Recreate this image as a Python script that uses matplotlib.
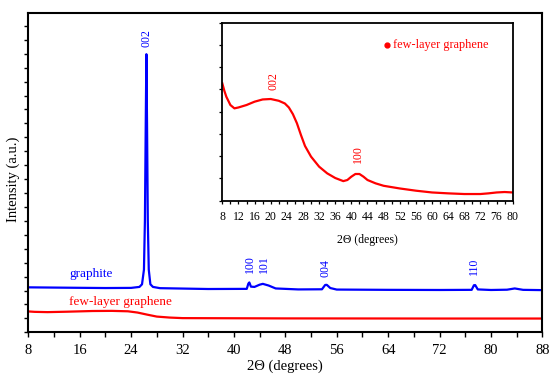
import matplotlib
matplotlib.use("Agg")
import matplotlib.pyplot as plt
from matplotlib.ticker import MultipleLocator, NullFormatter

plt.rcParams['font.family'] = ['Liberation Serif', 'DejaVu Serif']

# ---- main panel data ----
graphite_x = [8, 15, 20, 24, 25.3, 25.7, 26.0, 26.15, 26.28, 26.38, 26.48, 26.6, 26.75,
              27.0, 27.4, 28.5, 36, 42.0, 42.25, 42.4, 42.65, 43.2, 44.0, 44.5, 45.4,
              46.5, 50, 53.7, 54.2, 54.45, 55.0, 56, 64, 72, 77.0, 77.35, 77.55, 77.95,
              80, 82.5, 83.7, 85, 88]
graphite_y = [3230, 3200, 3180, 3190, 3260, 3450, 4500, 8000, 15000, 19970, 15000, 8000,
              4500, 3450, 3260, 3170, 3110, 3120, 3500, 3580, 3280, 3260, 3420, 3480, 3360,
              3150, 3080, 3090, 3400, 3410, 3180, 3070, 3050, 3040, 3050, 3380, 3390, 3080,
              3040, 3060, 3150, 3050, 3030]

flg_x = [8, 9, 11, 14, 18, 21, 23.5, 25, 26.5, 28, 30, 32, 40, 48, 60, 72, 88]
flg_y = [1500, 1470, 1450, 1480, 1530, 1540, 1510, 1420, 1270, 1130, 1060, 1020, 1010,
         1000, 995, 990, 990]

main_peaks = ["002", "100", "101", "004", "110"]
main_peak_x = [26.45, 42.5, 44.7, 54.3, 77.4]
main_peak_y = [20500, 4250, 4250, 3950, 4090]

# ---- inset data ----
inset_x = [8, 8.5, 9, 10, 11, 12, 14, 16, 18, 20, 22, 23.5, 24.5, 25.5, 26.5, 27.5, 28.5,
           30, 32, 34, 36, 38, 39, 40, 41, 42, 43, 44, 46, 48, 52, 56, 60, 64, 68, 72,
           74, 76, 78, 80]
inset_y = [527, 494, 467, 430, 415, 419, 430, 445, 455, 457, 449, 437, 419, 389, 348, 295,
           246, 198, 153, 123, 102, 88, 93, 108, 120, 120, 108, 93, 78, 67, 55, 45, 37,
           33, 30, 30, 33, 37, 39, 37]
inset_peaks = ["002", "100"]
inset_peak_x = [20.6, 41.7]
inset_peak_y = [497, 170]

BLUE = (0, 0, 1)
RED = (1, 0, 0)

fig = plt.figure(figsize=(5.6, 3.75), dpi=100)
ax = fig.add_axes([0.0505, 0.1138, 0.918, 0.8524])
ax.plot(graphite_x, graphite_y, color=BLUE, lw=1.6)
ax.plot(flg_x, flg_y, color=RED, lw=1.6)
ax.set_xlim(8, 88)
ax.set_ylim(0, 22950)
ax.xaxis.set_major_locator(MultipleLocator(8))
ax.xaxis.set_minor_locator(MultipleLocator(4))
ax.yaxis.set_major_locator(MultipleLocator(1000))
ax.yaxis.set_major_formatter(NullFormatter())
ax.tick_params(axis='x', which='both', direction='out', length=3.5, width=1.0,
               labelsize=10.5, pad=5, top=False)
ax.tick_params(axis='y', which='both', direction='out', length=3, width=1.0, right=False)
for s in ax.spines.values():
    s.set_linewidth(1.5)
ax.set_xlabel("2\u0398 (degrees)", fontsize=10.5, labelpad=1.5)
ax.set_ylabel("Intensity (a.u.)", fontsize=10.5)
ax.yaxis.set_label_coords(-0.016, 0.48)

for lab, px, py in zip(main_peaks, main_peak_x, main_peak_y):
    ax.text(px, py, lab, rotation=90, color=BLUE, fontsize=8.5, ha='center', va='bottom')

ax.text(14.4, 4200, "graphite", color=BLUE, fontsize=9.5, ha='left', va='center')
ax.text(14.4, 2200, "few-layer graphene", color=RED, fontsize=9.5, ha='left', va='center')

# ---- inset ----
ins = fig.add_axes([0.397, 0.4648, 0.5185, 0.4747])
ins.plot(inset_x, inset_y, color=RED, lw=1.6)
ins.set_xlim(8, 80)
ins.set_ylim(0, 800)
ins.xaxis.set_major_locator(MultipleLocator(4))
ins.xaxis.set_minor_locator(MultipleLocator(2))
ins.yaxis.set_major_locator(MultipleLocator(100))
ins.yaxis.set_major_formatter(NullFormatter())
ins.tick_params(axis='x', which='both', direction='out', length=2.5, width=0.9,
                labelsize=8.5, pad=5, top=False)
ins.tick_params(axis='y', which='both', direction='out', length=2.5, width=0.9, right=False)
for s in ins.spines.values():
    s.set_linewidth(1.3)
ins.set_xlabel("2\u0398 (degrees)", fontsize=8.5, labelpad=8)
for lab, px, py in zip(inset_peaks, inset_peak_x, inset_peak_y):
    ins.text(px, py, lab, rotation=90, color=RED, fontsize=8.5, ha='center', va='bottom')

ins.plot([48.8], [701], 'o', color=RED, ms=3.5)
ins.text(50.3, 701, "few-layer graphene", color=RED, fontsize=8.8, ha='left', va='center')

fig.savefig("out.png", dpi=100)
